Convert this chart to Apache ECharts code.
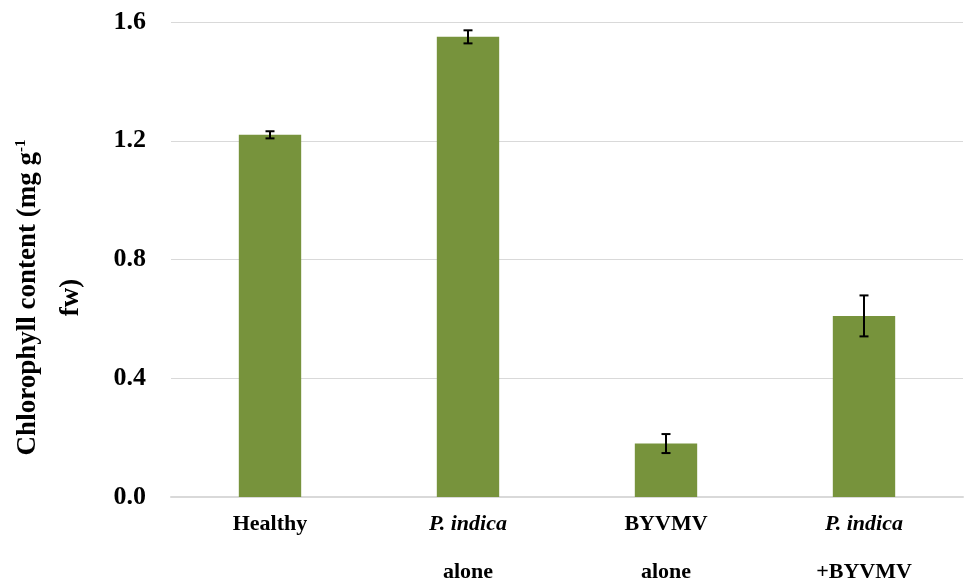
<!DOCTYPE html>
<html>
<head>
<meta charset="utf-8">
<script src="https://cdn.jsdelivr.net/npm/echarts@6/dist/echarts.min.js"></script>
<style>html,body{margin:0;padding:0;background:#fff}#c{width:967px;height:587px}</style>
</head>
<body>
<div id="c"></div>
<script>
var categories = ['Healthy', 'P. indica alone', 'BYVMV alone', 'P. indica +BYVMV'];
var categoryLabels = ['{b|Healthy}', '{i|P. indica}\n{b|alone}', '{b|BYVMV}\n{b|alone}', '{i|P. indica}\n{b|+BYVMV}'];
var values = [1.22, 1.55, 0.18, 0.61];
var errors = [0.012, 0.022, 0.032, 0.069];
var yTicks = [0, 0.4, 0.8, 1.2, 1.6];

var serif = '"Liberation Serif","Times New Roman",serif';
var chart = echarts.init(document.getElementById('c'));
var errData = values.map(function (v, i) { return [i, v - errors[i], v + errors[i]]; });

chart.setOption({
  animation: false,
  grid: { left: 171, right: 4, top: 22, bottom: 90, containLabel: false, outerBoundsMode: 'none' },
  xAxis: {
    type: 'category',
    data: categories,
    axisLine: { lineStyle: { color: '#d9d9d9', width: 2 } },
    axisTick: { show: false },
    axisLabel: {
      margin: 3,
      interval: 0,
      formatter: function (v, i) { return categoryLabels[i]; },
      rich: {
        b: { fontFamily: serif, fontWeight: 'bold', fontSize: 22, color: '#000', lineHeight: 48 },
        i: { fontFamily: serif, fontWeight: 'bold', fontStyle: 'italic', fontSize: 22, color: '#000', lineHeight: 48 }
      }
    }
  },
  yAxis: {
    type: 'value',
    min: yTicks[0],
    max: yTicks[yTicks.length - 1],
    interval: 0.4,
    name: '{t|Chlorophyll content (mg g}{s|-1}\n{t|fw)}',
    nameLocation: 'middle',
    nameGap: 78,
    nameRotate: 90,
    nameTextStyle: {
      padding: [0, 76, 0, 0],
      rich: {
        t: { fontFamily: serif, fontWeight: 'bold', fontSize: 27, color: '#000', lineHeight: 43 },
        s: { fontFamily: serif, fontWeight: 'bold', fontSize: 15, color: '#000', lineHeight: 43, padding: [0, 0, 14, 0] }
      }
    },
    axisLine: { show: false },
    axisTick: { show: false },
    splitLine: { lineStyle: { color: '#d9d9d9', width: 1 } },
    axisLabel: {
      margin: 25,
      fontFamily: serif,
      fontWeight: 'bold',
      fontSize: 26,
      color: '#000',
      formatter: function (v) { return v.toFixed(1); }
    }
  },
  series: [
    {
      type: 'bar',
      data: values,
      barWidth: '31.5%',
      itemStyle: { color: '#77933C' }
    },
    {
      type: 'custom',
      data: errData,
      z: 10,
      renderItem: function (params, api) {
        var x = api.value(0);
        var lo = api.coord([x, api.value(1)]);
        var hi = api.coord([x, api.value(2)]);
        var hw = 4.5;
        var st = { stroke: '#000', lineWidth: 2 };
        return {
          type: 'group',
          children: [
            { type: 'line', shape: { x1: lo[0], y1: lo[1], x2: hi[0], y2: hi[1] }, style: st },
            { type: 'line', shape: { x1: lo[0] - hw, y1: lo[1], x2: lo[0] + hw, y2: lo[1] }, style: st },
            { type: 'line', shape: { x1: hi[0] - hw, y1: hi[1], x2: hi[0] + hw, y2: hi[1] }, style: st }
          ]
        };
      }
    }
  ]
});
</script>
</body>
</html>
